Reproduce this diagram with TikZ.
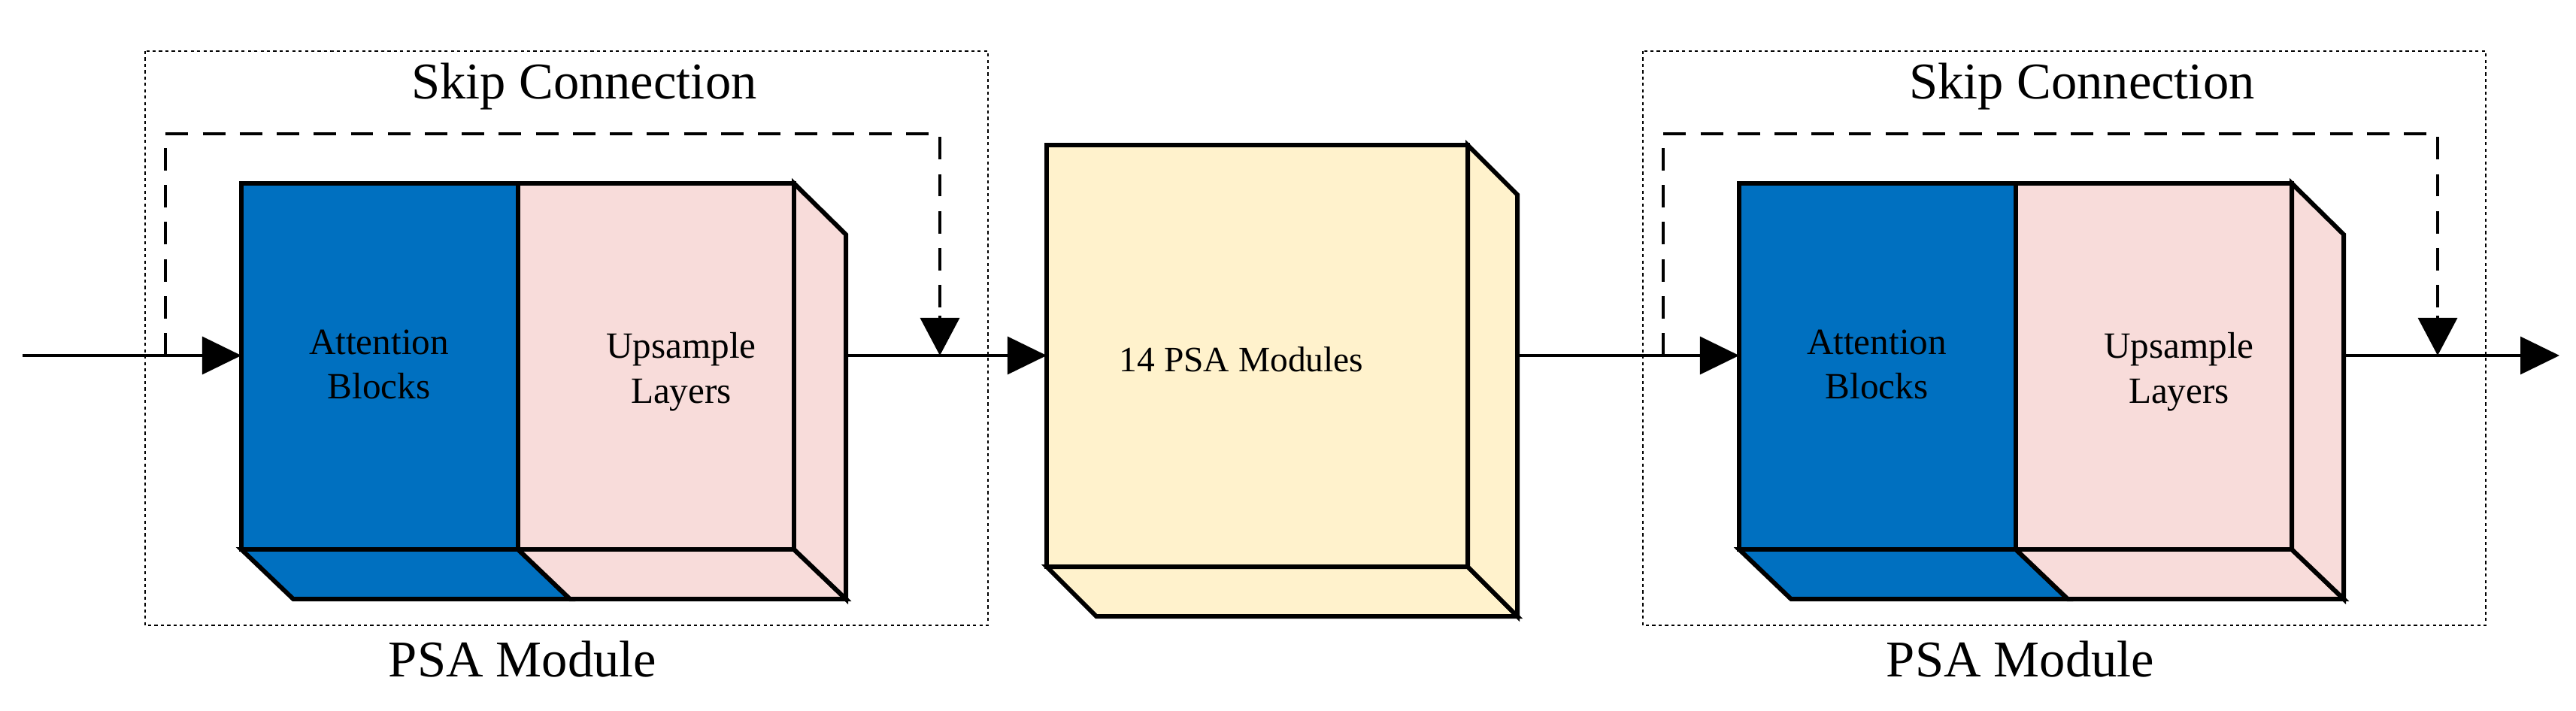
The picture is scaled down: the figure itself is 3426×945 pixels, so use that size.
\documentclass[tikz,border=0pt]{standalone}
\usepackage{fontspec}
\setmainfont{Liberation Serif}
\usetikzlibrary{arrows.meta}
\definecolor{blueC}{HTML}{0070C0}
\definecolor{pinkC}{HTML}{F8DCDA}
\definecolor{yelC}{HTML}{FFF2CC}
\begin{document}
\begin{tikzpicture}[x=0.01cm,y=-0.01cm,
  face/.style={draw,line width=1.7pt,line join=miter,inner sep=0pt,outer sep=0pt,anchor=north west},
  depth/.style={draw,line width=1.7pt,line join=miter},
  conn/.style={line width=0.9pt},
  arr/.style={conn,-{Triangle[length=0.52cm,width=0.5cm]}},
  skip/.style={conn,dash pattern=on 8.5pt off 5.5pt},
  frame/.style={draw,line width=0.6pt,dash pattern=on 1.2pt off 1.2pt},
  big/.style={font=\fontsize{19.5}{22}\selectfont},
  small/.style={font=\fontsize{14}{17}\selectfont,align=center}]
\useasboundingbox (0,0) rectangle (3426,945);
\foreach \o/\n in {0/1,1992/2}{
\begin{scope}[shift={(\o*0.01cm,0)}]
  \draw[frame] (193,68) rectangle (1314,832);
  \node[big] (sk\n) at (777,115) {Skip Connection};
  \node[big] (psa\n) at (695,877) {PSA Module};
  \draw[depth,fill=blueC] (321,731)--(390,797)--(758,797)--(689,731)--cycle;
  \draw[depth,fill=pinkC] (689,731)--(758,797)--(1125,797)--(1056,731)--cycle;
  \draw[depth,fill=pinkC] (1056,244)--(1125,312)--(1125,797)--(1056,731)--cycle;
  \node[face,fill=blueC,minimum width=3.68cm,minimum height=4.87cm] (att\n) at (321,244) {};
  \node[face,fill=pinkC,minimum width=3.67cm,minimum height=4.87cm] (up\n) at (689,244) {};
  \node[small] (tatt\n) at (504,485) {Attention\\Blocks};
  \node[small] (tup\n) at (906,495) {Upsample\\Layers};
  \coordinate (sa\n) at (220,473);
  \coordinate (sb\n) at (1250,473);
  \coordinate (out\n) at (1125,473);
  \draw[skip] (sa\n) -- (220,178) -- (1250,178) -- (1250,420);
  \draw[conn,-{Triangle[length=0.5cm,width=0.52cm]}] (1250,420) -- (sb\n);
\end{scope}}
\draw[depth,fill=yelC] (1392,754)--(1458,820)--(2018,820)--(1952,754)--cycle;
\draw[depth,fill=yelC] (1952,193)--(2018,259)--(2018,820)--(1952,754)--cycle;
\node[face,fill=yelC,minimum width=5.6cm,minimum height=5.61cm] (mid) at (1392,193) {};
\node[font=\fontsize{13.5}{16}\selectfont] (tmid) at (1651,478) {14 PSA Modules};
\coordinate (in) at (30,473);
\coordinate (midout) at (2018,473);
\coordinate (end) at (3404,473);
\draw[arr] (in) -- (in -| att1.west);
\draw[arr] (out1) -- (out1 -| mid.west);
\draw[arr] (midout) -- (midout -| att2.west);
\draw[arr] (out2) -- (end);
\end{tikzpicture}
\end{document}
